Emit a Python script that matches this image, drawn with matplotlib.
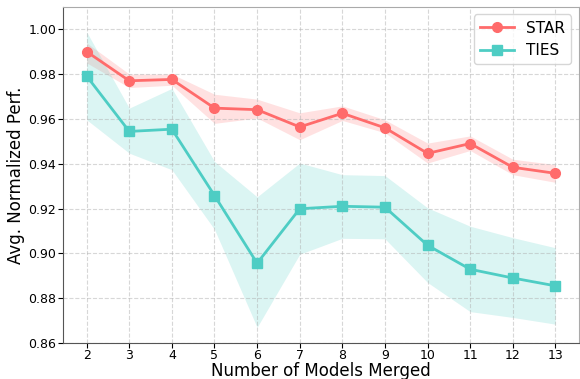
import numpy as np
import matplotlib.pyplot as plt

n_models = [2, 3, 4, 5, 6, 7, 8, 9, 10, 11, 12, 13]

star_mean = [0.990, 0.977, 0.9776, 0.9648, 0.9641, 0.9564, 0.9625, 0.956, 0.9446, 0.949, 0.9384, 0.9357]
star_low = [0.985, 0.974, 0.975, 0.958, 0.9604, 0.9507, 0.9593, 0.9538, 0.9403, 0.9459, 0.9351, 0.9317]
star_high = [0.9939, 0.980, 0.980, 0.971, 0.9688, 0.9627, 0.9658, 0.9596, 0.9492, 0.9524, 0.942, 0.9396]

ties_mean = [0.9791, 0.9544, 0.9554, 0.9258, 0.8956, 0.9199, 0.921, 0.9206, 0.9036, 0.8929, 0.889, 0.8855]
ties_low = [0.9596, 0.9447, 0.9373, 0.9107, 0.867, 0.8996, 0.9067, 0.9065, 0.887, 0.874, 0.8714, 0.8684]
ties_high = [0.9988, 0.9648, 0.9736, 0.941, 0.9252, 0.9403, 0.9351, 0.9347, 0.9203, 0.9121, 0.907, 0.9025]

c_star = "#FF6B6B"
c_ties = "#4ECDC4"

fig = plt.figure(figsize=(5.8, 3.79), dpi=100)
ax = fig.add_axes([0.109, 0.095, 0.889, 0.887])

ax.fill_between(n_models, star_low, star_high, color=c_star, alpha=0.2, linewidth=0)
ax.plot(n_models, star_mean, marker="o", color=c_star, linewidth=2, markersize=7, label="STAR")
ax.fill_between(n_models, ties_low, ties_high, color=c_ties, alpha=0.2, linewidth=0)
ax.plot(n_models, ties_mean, marker="s", color=c_ties, linewidth=2, markersize=7, label="TIES")

ax.set_ylim(0.86, 1.01)
ax.set_xticks(n_models)
ax.set_yticks(np.arange(0.86, 1.001, 0.02))
ax.tick_params(axis="y", labelsize=9, length=3.5, pad=1.5)
ax.tick_params(axis="x", labelsize=9, length=3.5, pad=1)
ax.set_xlabel("Number of Models Merged", fontsize=12, labelpad=0)
ax.set_ylabel("Avg. Normalized Perf.", fontsize=12, labelpad=2)
ax.grid(True, linestyle="--", alpha=0.5)
for s in ["top", "right"]:
    ax.spines[s].set_color("#aaaaaa")
for s in ["left", "bottom"]:
    ax.spines[s].set_color("#555555")
ax.legend(fontsize=11, loc="upper right", handlelength=2.2)

fig.savefig("out.png", dpi=100)
